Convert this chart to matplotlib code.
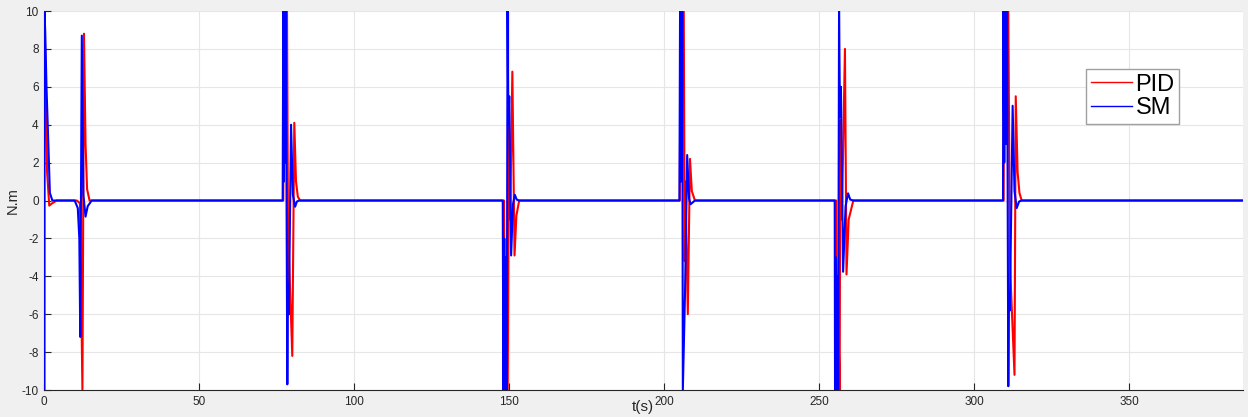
import matplotlib
matplotlib.use("Agg")
import matplotlib.pyplot as plt

# torque response (t in s, value in N.m)
t_pid = [0.0, 0.05, 0.35, 0.9, 1.6, 2.5, 4.0,
         10.5, 11.5, 12.3, 12.8, 13.3, 13.8, 14.6,
         77.1, 77.3, 77.6, 77.9, 78.3, 78.7, 78.9, 80.0, 80.65, 81.2, 81.8, 82.5,
         148.3, 148.6, 149.0, 149.5, 149.9, 150.3, 151.0, 151.7, 152.3, 153.2,
         205.0, 205.3, 205.6, 205.9, 206.3, 206.6, 206.8, 207.6, 208.3, 208.9, 209.9,
         255.5, 255.6, 256.0, 256.6, 256.8, 257.3, 258.3, 258.8, 259.5, 261.0,
         309.5, 309.6, 310.0, 310.4, 311.0, 311.5, 311.7, 313.0, 313.4, 314.0, 314.6, 315.3,
         387.0]
pid = [-10, 10, 7, 1.5, -0.27, -0.15, 0,
       0, -0.15, -10, 8.8, 3.0, 0.6, 0,
       0, 10, 3, 10, 10, -4.5, -2.8, -8.2, 4.1, 1.0, 0.2, 0,
       0, -10, -4, -10, 3.9, -1, 6.8, -2.9, -0.8, 0,
       0, 10, 4, 10, 10, -3.2, 1.0, -6.0, 2.2, 0.5, 0,
       0, -10, -5, -10, 4.25, -1, 8.0, -3.9, -1.0, 0,
       0, 10, 4, 10, 10, -2.5, -4, -9.2, 5.5, 1.5, 0.4, 0,
       0]

t_sm = [0.0, 0.05, 0.3, 0.7, 1.1, 1.8, 2.6,
        9.8, 10.8, 11.3, 11.6, 12.1, 12.6, 13.3, 14.0, 15.3,
        76.9, 77.1, 77.3, 77.5, 77.7, 77.9, 78.4, 78.6, 78.9, 79.6, 80.2, 80.9, 81.5, 82.3,
        147.9, 148.1, 148.4, 148.6, 148.9, 149.2, 149.45, 149.7, 150.0, 150.6, 151.2, 151.8, 152.4, 153.2,
        204.9, 205.1, 205.3, 205.5, 205.7, 205.8, 206.0, 206.7, 207.4, 208.0, 208.5, 209.9,
        255.0, 255.1, 255.4, 255.7, 255.9, 256.1, 256.4, 256.7, 257.0, 257.7, 258.5, 259.3, 260.0, 261.0,
        309.3, 309.4, 309.7, 310.0, 310.3, 310.6, 311.0, 311.2, 311.5, 312.4, 313.0, 313.7, 314.5, 315.3,
        387.0]
sm = [-10, 10, 8.9, 6, 4, 0.4, 0,
      0, -0.4, -2.0, -7.2, 8.7, 0.3, -0.85, -0.3, 0,
      0, 10, 1, 10, 2, 10, -9.7, -4.4, -6.0, 4.0, 0.3, -0.33, -0.05, 0,
      0, -10, -2, -10, -3, -10, 10, 4.0, 5.5, -2.9, -0.2, 0.3, 0.05, 0,
      0, 10, 1, 10, 2, 10, -10, -4.9, 2.4, 0.1, -0.2, 0,
      0, -10, -3, -10, -4, -10, 10, 4.4, 6.0, -3.76, -0.3, 0.38, 0.05, 0,
      0, 10, 2, 10, 3, 10, -9.8, -4.9, -5.8, 5.0, 0.5, -0.4, -0.05, 0,
      0]

x_ticks = [0, 50, 100, 150, 200, 250, 300, 350]
y_ticks = [-10, -8, -6, -4, -2, 0, 2, 4, 6, 8, 10]

plt.rcParams['font.family'] = ['Liberation Sans', 'DejaVu Sans']
plt.rcParams['axes.unicode_minus'] = False

fig = plt.figure(figsize=(12.48, 4.17), dpi=100, facecolor='#f0f0f0')
ax = fig.add_axes([0.0355, 0.0647, 0.9607, 0.9089])
ax.set_facecolor('white')

# lines above the spines so the t=0 jump shows on the left edge
ax.plot(t_pid, pid, color='#ff0000', lw=1.5, label='PID', zorder=3)
ax.plot(t_sm, sm, color='#0000ff', lw=1.5, label='SM', zorder=3)

ax.set_xlim(0, 386.8)
ax.set_ylim(-10, 10)
ax.set_xticks(x_ticks)
ax.set_yticks(y_ticks)
ax.grid(True, color='#e6e6e6', lw=0.8)
ax.set_axisbelow(True)

for s in ['top', 'right']:
    ax.spines[s].set_visible(False)
for s in ['left', 'bottom']:
    ax.spines[s].set_color('#262626')
    ax.spines[s].set_linewidth(0.8)

ax.tick_params(direction='in', length=5, width=0.8, colors='#262626', labelsize=8.5)
ax.tick_params(axis='x', pad=4)
ax.tick_params(axis='y', pad=4)

ax.set_xlabel('t(s)', fontsize=11, va='center', color='#262626')
ax.xaxis.set_label_coords(0.4993, -0.045)
ax.set_ylabel('N.m', fontsize=10.5, va='center', color='#262626')
ax.yaxis.set_label_coords(-0.026, 0.5)

leg = ax.legend(loc='upper left', bbox_to_anchor=(0.8688, 0.847), borderaxespad=0,
                fontsize=17, handlelength=1.75, handletextpad=0.15, borderpad=0.2,
                labelspacing=0.05, fancybox=False, framealpha=1, edgecolor='#a0a0a0')
for line in leg.get_lines():
    line.set_linewidth(1.0)

fig.savefig('out.png', dpi=100, facecolor=fig.get_facecolor())
